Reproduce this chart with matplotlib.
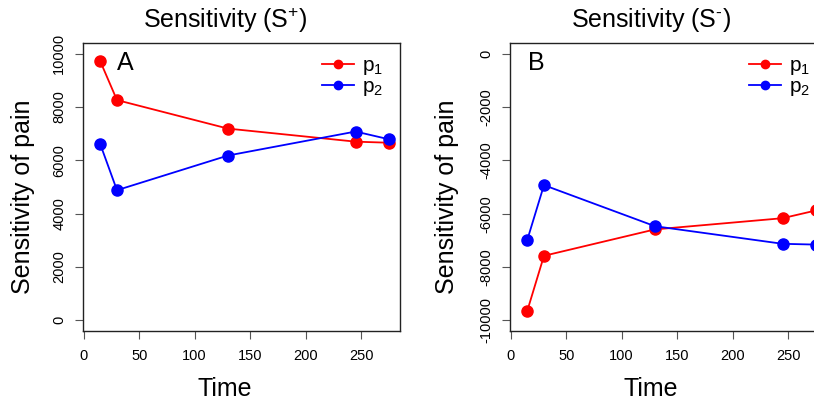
import numpy as np
import matplotlib
matplotlib.use("Agg")
import matplotlib.pyplot as plt

plt.rcParams['font.family'] = ['Liberation Sans', 'DejaVu Sans']
plt.rcParams['mathtext.fontset'] = 'custom'
plt.rcParams['mathtext.rm'] = 'Liberation Sans'
plt.rcParams['mathtext.it'] = 'Liberation Sans'
plt.rcParams['axes.unicode_minus'] = False

### DATA ###
time = [15, 30, 130, 245, 275]
pos_p1 = [9710, 8260, 7190, 6700, 6660]
pos_p2 = [6600, 4880, 6180, 7080, 6790]
neg_p1 = [-9640, -7580, -6590, -6170, -5880]
neg_p2 = [-6980, -4930, -6470, -7130, -7160]
xticks = [0, 50, 100, 150, 200, 250]
pos_yticks = [0, 2000, 4000, 6000, 8000, 10000]
neg_yticks = [0, -2000, -4000, -6000, -8000, -10000]

W, H = 814, 403
fig = plt.figure(figsize=(W / 100, H / 100), dpi=100)

def panel(x0, p1, p2, yticks, ylim, letter, letter_x, title, xc):
    ax = fig.add_axes([x0 / W, (H - 331) / H, 317 / W, 288 / H])
    ax.plot(time, p1, color='red', lw=1.3, marker='o', ms=8, label=r'p$_1$')
    ax.plot(time, p2, color='blue', lw=1.3, marker='o', ms=8, label=r'p$_2$')
    ax.set_xlim(-0.6, 285)
    ax.set_ylim(*ylim)
    ax.set_xticks(xticks)
    ax.set_yticks(yticks)
    ax.tick_params(direction='out', length=6, width=0.8, color='#555555',
                   labelsize=10.5)
    ax.tick_params(axis='x', pad=7)
    ax.tick_params(axis='y', pad=6)
    for lab in ax.get_yticklabels():
        lab.set_rotation(90)
        lab.set_va('center')
    for s in ax.spines.values():
        s.set_linewidth(1.0)
        s.set_color('#222222')
    ax.text(letter_x, 0.93, letter, transform=ax.transAxes, fontsize=18,
            ha='left', va='center')
    ax.legend(loc='upper left', bbox_to_anchor=(0.748, 0.962),
              borderaxespad=0, borderpad=0.1, frameon=False, fontsize=15,
              handlelength=1.55, handletextpad=0.35, labelspacing=0.02,
              markerscale=0.75)
    fig.text(xc / W, 1 - 20 / H, title, fontsize=18, ha='center', va='center')
    fig.text(xc / W, 1 - 389 / H, 'Time', fontsize=18, ha='center', va='center')
    return ax

ax1 = panel(83, pos_p1, pos_p2, pos_yticks, (-400, 10400), 'A', 0.107,
            r'Sensitivity (S$^{+}$)', 225)
ax2 = panel(510, neg_p1, neg_p2, neg_yticks, (-10400, 400), 'B', 0.057,
            r'Sensitivity (S$^{\text{-}}$)', 651)

fig.text(23 / W, 1 - 197 / H, 'Sensitivity of pain', fontsize=18, rotation=90,
         ha='center', va='center')
fig.text(447 / W, 1 - 197 / H, 'Sensitivity of pain', fontsize=18, rotation=90,
         ha='center', va='center')

fig.savefig('out.png', dpi=100)
